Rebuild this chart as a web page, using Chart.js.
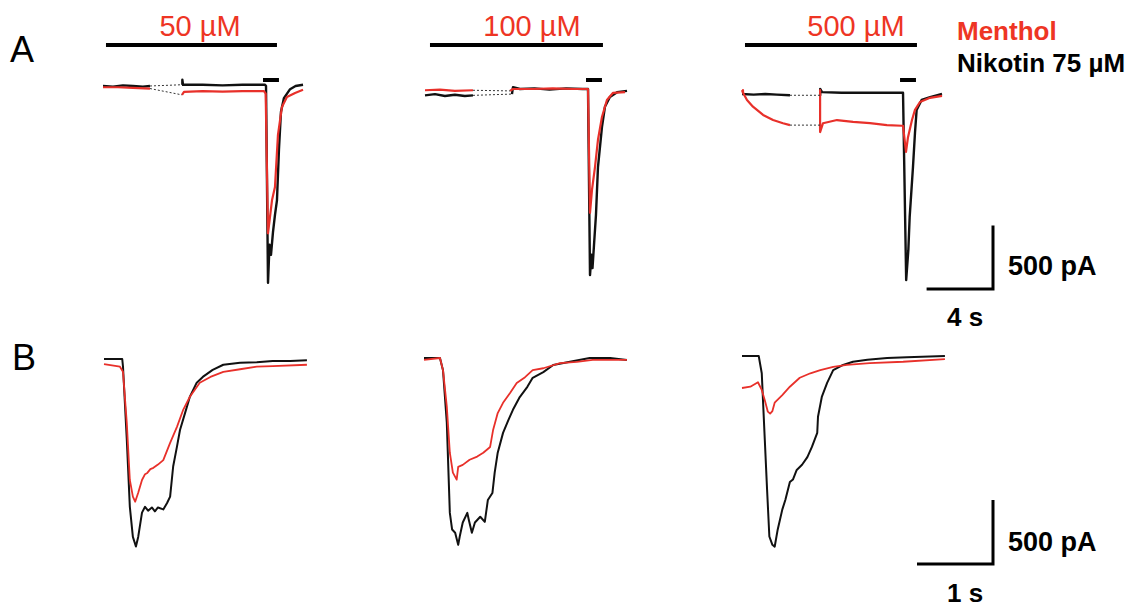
<!DOCTYPE html>
<html><head><meta charset="utf-8">
<script src="https://cdn.jsdelivr.net/npm/chart.js@4.4.1/dist/chart.umd.min.js"></script>
<style>
html,body{margin:0;padding:0;background:#fff;width:1139px;height:603px;overflow:hidden;position:relative;font-family:"Liberation Sans",Arial,sans-serif;}
.box{position:absolute;}
.lbl{position:absolute;white-space:nowrap;line-height:1;color:#000;}
.red{color:#ee3524;}
.b{font-weight:bold;}
.c{transform:translateX(-50%);}
</style></head><body>
<div class="lbl" style="left:10px;top:32px;font-size:36px;">A</div>
<div class="lbl" style="left:12px;top:340px;font-size:36px;">B</div>
<div class="lbl red c" style="left:200px;top:12px;font-size:29px;">50 µM</div>
<div class="lbl red c" style="left:532px;top:12px;font-size:29px;">100 µM</div>
<div class="lbl red c" style="left:856px;top:12px;font-size:29px;">500 µM</div>
<div class="lbl red b" style="left:957px;top:18px;font-size:26px;">Menthol</div>
<div class="lbl b" style="left:957px;top:50px;font-size:26px;">Nikotin 75 µM</div>
<div class="lbl b" style="left:1008px;top:253px;font-size:27px;">500 pA</div>
<div class="lbl b" style="left:947px;top:304px;font-size:26px;">4 s</div>
<div class="lbl b" style="left:1008px;top:529px;font-size:27px;">500 pA</div>
<div class="lbl b" style="left:947px;top:580px;font-size:26px;">1 s</div>

<div class="box" id="bA1"><canvas id="cA1"></canvas></div>
<div class="box" id="bA2"><canvas id="cA2"></canvas></div>
<div class="box" id="bA3"><canvas id="cA3"></canvas></div>
<div class="box" id="bB1"><canvas id="cB1"></canvas></div>
<div class="box" id="bB2"><canvas id="cB2"></canvas></div>
<div class="box" id="bB3"><canvas id="cB3"></canvas></div>

<script>
// ---------- DATA (time in s, current in pA) ----------
const concentrations = ['50 µM', '100 µM', '500 µM'];

// Panel A: full recordings (with recording break, drawn dotted)
const a1Black = [[0,0],[0.6,-5],[1.2,5],[1.8,0],[2.4,-5],[2.83,0],[4.76,10],[4.78,50],[4.82,10],[6,10],[7.2,5],[8.4,10],[9.6,10],[9.76,10],[9.82,0],[9.94,-1550],[10.03,-1250],[10.12,-1330],[10.24,-1150],[10.36,-1015],[10.48,-900],[10.6,-500],[10.72,-205],[10.9,-95],[11.27,-25],[11.6,0],[12.05,10]];
const a1Red = [[0,-10],[0.9,-10],[1.8,-15],[2.83,-20],[4.76,-70],[4.88,-47],[6,-40],[7.2,-45],[8.4,-40],[9.6,-40],[9.7,-40],[9.8,-60],[9.94,-1160],[10.18,-900],[10.36,-795],[10.54,-385],[10.78,-165],[11.08,-87],[11.57,-55],[12.05,-30]];

const a2Black = [[0,-50],[0.6,-40],[1.2,-55],[1.8,-45],[2.4,-55],[2.89,-50],[5.24,-40],[5.3,15],[5.72,0],[6.6,5],[7.5,-5],[8.5,5],[9.5,0],[9.82,0],[9.94,-1465],[10.03,-1305],[10.09,-1410],[10.18,-1230],[10.3,-990],[10.42,-615],[10.66,-300],[10.84,-140],[11.14,-63],[11.57,-25],[12.17,-15]];
const a2Red = [[0,-10],[0.9,-5],[1.8,-15],[2.89,-10],[5.12,-15],[5.3,0],[6.5,0],[7.7,5],[8.9,0],[9.82,0],[9.94,-975],[10.06,-795],[10.24,-615],[10.42,-400],[10.66,-220],[10.96,-87],[11.33,-30],[12.05,-25]];

const a3Black = [[0,0],[0.7,-5],[1.4,0],[2.1,-5],[2.89,-10],[4.7,-10],[4.71,40],[4.82,15],[6,10],[7.2,10],[8.4,10],[9.64,10],[9.7,10],[9.89,-1465],[10.02,-1230],[10.1,-970],[10.3,-575],[10.42,-307],[10.52,-126],[10.82,-47],[11.33,-25],[12.05,0]];
const a3Red = [[0,30],[0.06,10],[0.3,-47],[0.66,-100],[1.27,-165],[1.87,-205],[2.47,-230],[2.89,-245],[4.7,-245],[4.7,30],[4.71,-300],[4.88,-230],[5.72,-205],[6.69,-220],[7.71,-230],[8.73,-245],[9.64,-250],[9.7,-250],[9.88,-455],[10.0,-340],[10.24,-205],[10.42,-125],[10.72,-63],[11.33,-30],[12.05,-15]];

// drug application periods (s): menthol (long bar) and nicotine (short bar)
const mentholApp = [[0.18,10.48],[0.3,10.72],[0.18,10.54]];
const nicotineApp = [[9.64,10.6],[9.7,10.66],[9.52,10.48]];

// Panel B: nicotine responses, expanded time scale
const b1Black = [[0,0],[0.24,0],[0.25,-60],[0.3,-630],[0.34,-1155],[0.38,-1390],[0.42,-1465],[0.45,-1390],[0.5,-1200],[0.54,-1155],[0.58,-1185],[0.63,-1160],[0.67,-1190],[0.71,-1160],[0.78,-1175],[0.83,-1125],[0.87,-1075],[0.91,-840],[0.96,-685],[1.0,-555],[1.07,-415],[1.13,-295],[1.22,-185],[1.3,-140],[1.43,-85],[1.57,-45],[1.79,-30],[2.01,-25],[2.22,-15],[2.45,-15],[2.67,-10]];
const b1Red = [[0,-40],[0.21,-60],[0.25,-100],[0.3,-500],[0.34,-945],[0.38,-1075],[0.41,-1115],[0.45,-1045],[0.5,-945],[0.54,-900],[0.57,-890],[0.61,-860],[0.65,-850],[0.71,-825],[0.78,-790],[0.87,-655],[0.96,-530],[1.04,-400],[1.13,-295],[1.26,-185],[1.4,-140],[1.57,-100],[1.79,-80],[2.01,-60],[2.22,-55],[2.67,-45]];

const b2Black = [[0,0],[0.21,0],[0.25,-95],[0.3,-505],[0.34,-1210],[0.37,-1340],[0.41,-1365],[0.45,-1460],[0.47,-1395],[0.51,-1285],[0.57,-1210],[0.59,-1265],[0.63,-1365],[0.67,-1285],[0.74,-1240],[0.8,-1280],[0.84,-1110],[0.9,-1055],[0.93,-895],[0.97,-740],[1.04,-585],[1.11,-485],[1.17,-405],[1.26,-305],[1.36,-225],[1.43,-155],[1.57,-110],[1.7,-55],[1.92,-30],[2.18,0],[2.45,0],[2.67,-15]];
const b2Red = [[0,-15],[0.21,0],[0.25,-95],[0.3,-380],[0.34,-740],[0.38,-895],[0.43,-950],[0.45,-850],[0.51,-835],[0.6,-795],[0.7,-770],[0.78,-740],[0.87,-695],[0.91,-560],[0.97,-430],[1.04,-350],[1.13,-275],[1.22,-195],[1.33,-150],[1.43,-95],[1.57,-80],[1.79,-40],[2.01,-30],[2.22,-15],[2.67,-15]];

const b3Black = [[0,0],[0.22,0],[0.26,-135],[0.3,-655],[0.33,-1045],[0.36,-1410],[0.4,-1475],[0.43,-1490],[0.47,-1355],[0.53,-1200],[0.57,-1125],[0.63,-985],[0.67,-965],[0.72,-890],[0.79,-850],[0.86,-790],[0.92,-710],[0.99,-600],[1.0,-475],[1.05,-320],[1.12,-210],[1.2,-110],[1.33,-70],[1.46,-45],[1.65,-30],[1.91,-15],[2.17,-10],[2.67,0]];
const b3Red = [[0,-250],[0.11,-240],[0.21,-205],[0.26,-265],[0.3,-345],[0.34,-435],[0.37,-450],[0.4,-430],[0.43,-365],[0.53,-305],[0.63,-240],[0.76,-170],[0.9,-135],[1.03,-110],[1.2,-85],[1.38,-70],[1.68,-55],[2.12,-45],[2.67,-25]];

// scale bars: [time s, current pA]
const scaleA = [4, 500];
const scaleB = [1, 500];

// ---------- LAYOUT ----------
const RED = '#e8302a', BLACK = '#111111';
const rowA = {top:30, height:280, pxPerS:16.6, pxPerPA:0.127, lw:2.4};
const rowB = {top:340, height:230, pxPerS:76, pxPerPA:0.128, lw:2};
const panels = [
  {id:'A1', row:rowA, left:95,  width:220, ox:103, by:86,  black:a1Black, red:a1Red, app:0},
  {id:'A2', row:rowA, left:415, width:225, ox:425, by:89,  black:a2Black, red:a2Red, app:1},
  {id:'A3', row:rowA, left:735, width:275, ox:742, by:94,  black:a3Black, red:a3Red, app:2, scale:scaleA, corner:[993,289]},
  {id:'B1', row:rowB, left:98,  width:215, ox:104, by:359, black:b1Black, red:b1Red},
  {id:'B2', row:rowB, left:418, width:215, ox:424, by:358, black:b2Black, red:b2Red},
  {id:'B3', row:rowB, left:735, width:275, ox:742, by:356, black:b3Black, red:b3Red, scale:scaleB, corner:[993,564]},
];
const barLevelsPx = [45, 80]; // menthol bar, nicotine bar (vertical placement)

const toXY = arr => arr.map(([x,y]) => ({x, y}));
const GAP = 1.5;

function traceSet(arr, color, lw) {
  return {
    data: toXY(arr), borderColor: color, borderWidth: lw, pointRadius: 0, fill: false, clip: false,
    borderJoinStyle: 'round',
    segment: { borderColor: ctx => (ctx.p1.parsed.x - ctx.p0.parsed.x > GAP) ? 'rgba(0,0,0,0)' : undefined }
  };
}
function gapSets(arr) {
  const out = [];
  for (let i = 1; i < arr.length; i++) {
    if (arr[i][0] - arr[i-1][0] > GAP) {
      out.push({data: toXY([arr[i-1], arr[i]]), borderColor: '#333', borderWidth: 1, borderDash: [2,2],
        pointRadius: 0, fill: false, clip: false});
    }
  }
  return out;
}

panels.forEach(p => {
  const r = p.row;
  const box = document.getElementById('b' + p.id);
  Object.assign(box.style, {left: p.left + 'px', top: r.top + 'px', width: p.width + 'px', height: r.height + 'px'});
  const xmin = (p.left - p.ox) / r.pxPerS, xmax = (p.left + p.width - p.ox) / r.pxPerS;
  const ymax = (p.by - r.top) / r.pxPerPA, ymin = -(r.top + r.height - p.by) / r.pxPerPA;
  const pxToY = py => (p.by - py) / r.pxPerPA;
  const pxToX = px => (px - p.ox) / r.pxPerS;

  const datasets = [];
  datasets.push(...gapSets(p.red), ...gapSets(p.black));
  datasets.push(traceSet(p.red, RED, r.lw - 0.2));
  datasets.push(traceSet(p.black, BLACK, r.lw));
  if (p.app !== undefined) {
    const m = mentholApp[p.app], n = nicotineApp[p.app];
    const lm = pxToY(barLevelsPx[0]), ln = pxToY(barLevelsPx[1]);
    datasets.push({data: toXY([[m[0], lm],[m[1], lm]]), borderColor: '#000', borderWidth: 4, pointRadius: 0, clip: false, borderCapStyle: 'butt'});
    datasets.push({data: toXY([[n[0], ln],[n[1], ln]]), borderColor: '#000', borderWidth: 4, pointRadius: 0, clip: false, borderCapStyle: 'butt'});
  }
  if (p.scale) {
    const cx = pxToX(p.corner[0]), cy = pxToY(p.corner[1]);
    datasets.push({data: toXY([[cx - p.scale[0], cy],[cx, cy],[cx, cy + p.scale[1]]]), borderColor: '#000',
      borderWidth: 3, pointRadius: 0, clip: false, borderCapStyle: 'butt', borderJoinStyle: 'miter'});
  }

  new Chart(document.getElementById('c' + p.id), {
    type: 'line',
    data: {datasets},
    options: {
      responsive: true, maintainAspectRatio: false, animation: false, events: [],
      layout: {padding: 0},
      plugins: {legend: {display: false}, tooltip: {enabled: false}},
      elements: {line: {tension: 0}, point: {radius: 0}},
      scales: {
        x: {type: 'linear', display: false, min: xmin, max: xmax},
        y: {type: 'linear', display: false, min: ymin, max: ymax}
      }
    }
  });
});
</script>
</body></html>
